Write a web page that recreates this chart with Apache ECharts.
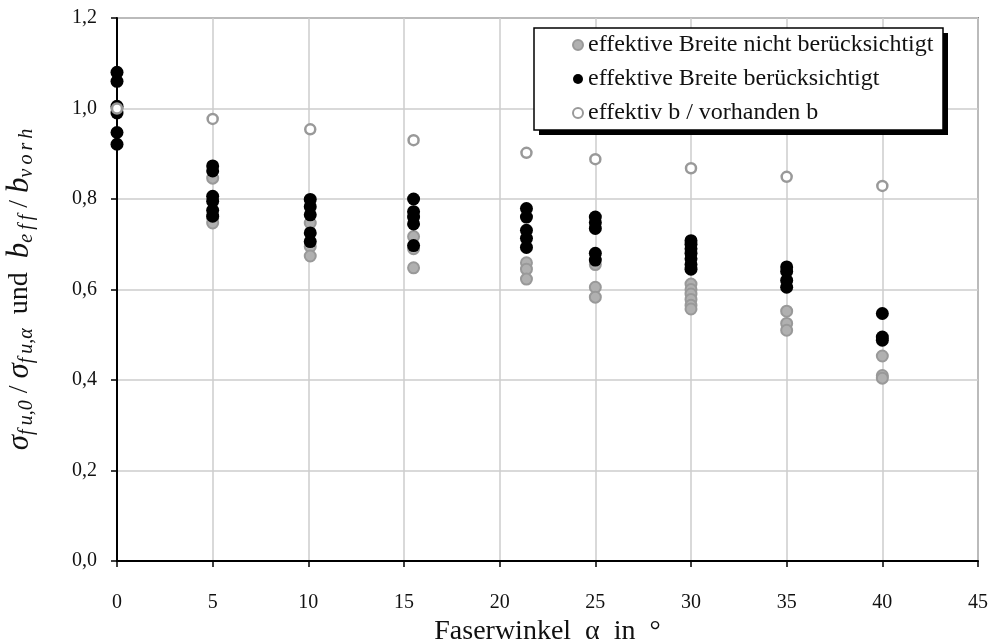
<!DOCTYPE html>
<html>
<head>
<meta charset="utf-8">
<script src="https://cdn.jsdelivr.net/npm/echarts@6/dist/echarts.min.js"></script>
<style>
html,body{margin:0;padding:0;background:#fff;}
#main{width:994px;height:644px;}
</style>
</head>
<body>
<div id="main"></div>
<script>
// Faserwinkel (x positions of the measurement groups)
var angles = [0, 5, 10.1, 15.5, 21.4, 25, 30, 35, 40];

// effektive Breite nicht berücksichtigt
var grayVals = [
    [1.0],
    [0.846, 0.758, 0.747],
    [0.747, 0.695, 0.674],
    [0.717, 0.690, 0.648],
    [0.659, 0.645, 0.623],
    [0.655, 0.605, 0.583],
    [0.612, 0.600, 0.590, 0.578, 0.565, 0.557],
    [0.552, 0.525, 0.510],
    [0.453, 0.410, 0.404]
];

// effektive Breite berücksichtigt
var blackVals = [
    [1.080, 1.060, 1.005, 0.990, 0.947, 0.921],
    [0.873, 0.862, 0.806, 0.795, 0.775, 0.762],
    [0.799, 0.783, 0.765, 0.725, 0.706],
    [0.800, 0.772, 0.760, 0.745, 0.697],
    [0.779, 0.760, 0.731, 0.713, 0.693],
    [0.760, 0.748, 0.735, 0.680, 0.665],
    [0.708, 0.700, 0.690, 0.680, 0.668, 0.655, 0.645],
    [0.650, 0.640, 0.620, 0.605],
    [0.547, 0.495, 0.488]
];

// effektiv b / vorhanden b
var ratioVals = [1.0, 0.977, 0.954, 0.930, 0.902, 0.888, 0.868, 0.849, 0.829];

var seriesNames = ['effektive Breite nicht berücksichtigt', 'effektive Breite berücksichtigt', 'effektiv b / vorhanden b'];

function toPairs(groups){
    var out = [];
    for (var i = 0; i < groups.length; i++) {
        for (var j = 0; j < groups[i].length; j++) {
            out.push([angles[i], groups[i][j]]);
        }
    }
    return out;
}

var chart = echarts.init(document.getElementById('main'));
var serif = 'Liberation Serif';
var ts = '\u2009'; // thin space, math-like spacing in subscripts

var option = {
    backgroundColor: '#fff',
    animation: false,
    textStyle: {fontFamily: serif},
    grid: {
        left: 117, right: 16, top: 18, bottom: 83,
        containLabel: false,
        outerBoundsMode: 'none',
        show: true,
        borderColor: '#888',
        borderWidth: 2,
        backgroundColor: '#fff'
    },
    // legend frame with hard drop shadow
    graphic: [
        {type: 'rect', z: 10, shape: {x: 539, y: 33, width: 409, height: 102}, style: {fill: '#000'}},
        {type: 'rect', z: 11, shape: {x: 534, y: 28, width: 409, height: 102}, style: {fill: '#fff', stroke: '#000', lineWidth: 1.5}}
    ],
    legend: {
        orient: 'vertical',
        left: 572,
        top: 33,
        z: 20,
        data: seriesNames,
        padding: 0,
        itemGap: 10,
        itemWidth: 10,
        itemHeight: 10,
        textStyle: {fontFamily: serif, fontSize: 24, color: '#111'}
    },
    xAxis: {
        type: 'value',
        min: 0, max: 45, interval: 5,
        name: 'Faserwinkel  α  in  °',
        nameLocation: 'middle',
        nameGap: 50,
        nameTextStyle: {fontFamily: serif, fontSize: 28, color: '#111'},
        axisLine: {show: true, lineStyle: {color: '#000', width: 2}},
        axisTick: {show: true, length: 6, lineStyle: {color: '#000', width: 1.5}},
        axisLabel: {fontFamily: serif, fontSize: 20, color: '#111', margin: 32},
        splitLine: {show: true, lineStyle: {color: '#ccc', width: 1.5}}
    },
    yAxis: {
        type: 'value',
        min: 0, max: 1.2, interval: 0.2,
        name: '{i|σ}{s|f' + ts + 'u,0}{n| / }{i|σ}{s|f' + ts + 'u,α}{n|  und  }{i|b}{s|e' + ts + 'f' + ts + 'f}{n| / }{i|b}{s|v' + ts + 'o' + ts + 'r' + ts + 'h}',
        nameLocation: 'middle',
        nameGap: 80,
        nameRotate: 90,
        nameTextStyle: {
            fontFamily: serif, fontSize: 28, color: '#111',
            rich: {
                i: {fontFamily: serif, fontStyle: 'italic', fontSize: 31, color: '#111'},
                n: {fontFamily: serif, fontSize: 28, color: '#111'},
                s: {fontFamily: serif, fontStyle: 'italic', fontSize: 20, color: '#111', padding: [14, 0, 0, 0]}
            }
        },
        axisLine: {show: true, lineStyle: {color: '#000', width: 2}},
        axisTick: {show: true, length: 6, lineStyle: {color: '#000', width: 1.5}},
        axisLabel: {
            fontFamily: serif, fontSize: 20, color: '#111', margin: 20,
            formatter: function(v){ return v.toFixed(1).replace('.', ','); }
        },
        splitLine: {show: true, lineStyle: {color: '#ccc', width: 1.5}}
    },
    series: [
        {
            name: seriesNames[0],
            type: 'scatter',
            symbol: 'circle',
            symbolSize: 11,
            data: toPairs(grayVals),
            itemStyle: {color: '#b0b0b0', borderColor: '#999', borderWidth: 2, opacity: 1}
        },
        {
            name: seriesNames[1],
            type: 'scatter',
            symbol: 'circle',
            symbolSize: 13,
            data: toPairs(blackVals),
            itemStyle: {color: '#000', opacity: 1}
        },
        {
            name: seriesNames[2],
            type: 'scatter',
            symbol: 'circle',
            symbolSize: 10,
            data: angles.map(function(a, i){ return [a, ratioVals[i]]; }),
            itemStyle: {color: '#fff', borderColor: '#999', borderWidth: 2.5, opacity: 1}
        }
    ]
};

chart.setOption(option);
</script>
</body>
</html>
